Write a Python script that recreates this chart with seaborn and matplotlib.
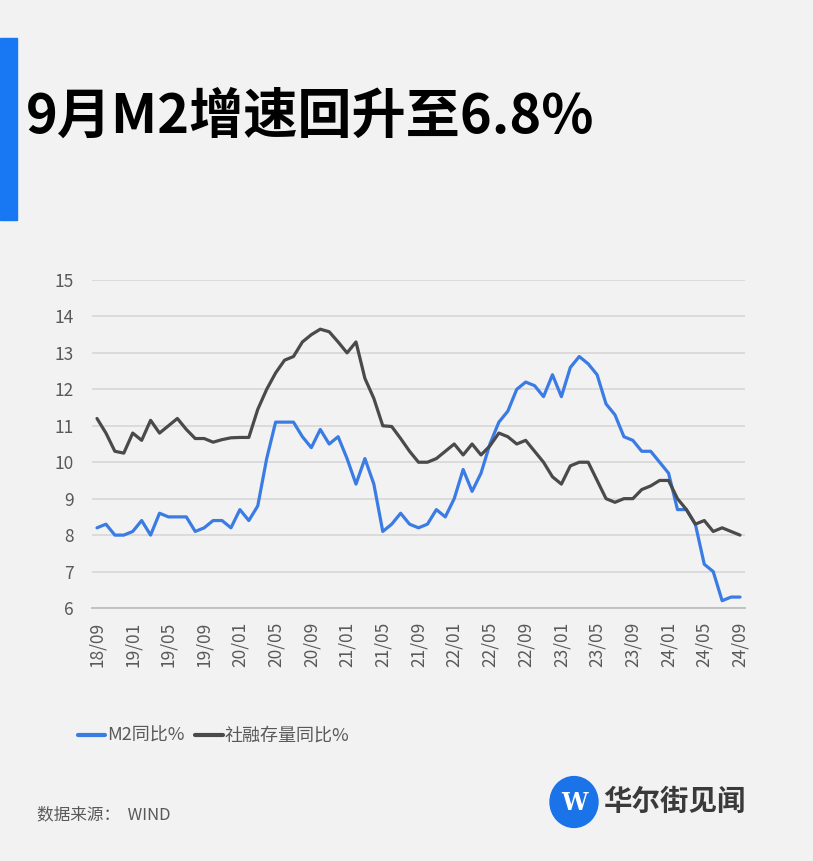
import numpy as np
import pandas as pd
import matplotlib
matplotlib.use("Agg")
import matplotlib.pyplot as plt
import seaborn as sns
from matplotlib.patches import Rectangle, Circle
from matplotlib.lines import Line2D

# ---- data ----
tick_labels = ["18/09", "19/01", "19/05", "19/09", "20/01", "20/05", "20/09",
               "21/01", "21/05", "21/09", "22/01", "22/05", "22/09", "23/01",
               "23/05", "23/09", "24/01", "24/05", "24/09"]

m2 = [8.2, 8.3, 8.0, 8.0, 8.1,
      8.4, 8.0, 8.6, 8.5, 8.5, 8.5, 8.1, 8.2, 8.4, 8.4, 8.2, 8.7,
      8.4, 8.8, 10.1, 11.1, 11.1, 11.1, 10.7, 10.4, 10.9, 10.5, 10.7, 10.1,
      9.4, 10.1, 9.4, 8.1, 8.3, 8.6, 8.3, 8.2, 8.3, 8.7, 8.5, 9.0,
      9.8, 9.2, 9.7, 10.5, 11.1, 11.4, 12.0, 12.2, 12.1, 11.8, 12.4, 11.8,
      12.6, 12.9, 12.7, 12.4, 11.6, 11.3, 10.7, 10.6, 10.3, 10.3, 10.0, 9.7,
      8.7, 8.7, 8.3, 7.2, 7.0, 6.2, 6.3, 6.3]

tsf = [11.2, 10.8, 10.3, 10.25, 10.8, 10.6, 11.15, 10.8, 11.0, 11.2, 10.9, 10.65,
       10.65, 10.55, 10.62, 10.67, 10.68, 10.68,
       11.45, 12.0, 12.45, 12.8, 12.9, 13.3, 13.5, 13.65, 13.58, 13.3, 13.0, 13.3,
       12.3, 11.75, 11.0, 10.98, 10.65, 10.3, 10.0, 10.0, 10.1, 10.3,
       10.5, 10.2, 10.5, 10.2, 10.45, 10.8, 10.7, 10.5, 10.6, 10.3, 10.0, 9.6,
       9.4, 9.9, 10.0, 10.0, 9.5, 9.0, 8.9, 9.0, 9.0, 9.25, 9.35, 9.5,
       9.5, 9.0, 8.7, 8.3, 8.4, 8.1, 8.2, 8.1, 8.0]

series_names = ["M2同比%", "社融存量同比%"]
colors = ["#3a7ce4", "#4a4a4a"]

idx = np.arange(len(m2))
df = pd.concat([
    pd.DataFrame({"i": idx, "v": m2, "s": series_names[0]}),
    pd.DataFrame({"i": idx, "v": tsf, "s": series_names[1]}),
])

sns.set_theme(style="white")
plt.rcParams['font.family'] = ['Noto Sans CJK SC', 'DejaVu Sans']
BG = "#f2f2f2"
GREY = "#595959"

fig = plt.figure(figsize=(8.13, 8.61), dpi=100, facecolor=BG)
W, H = 813, 861

def fx(x): return x / W
def fy(y): return 1 - y / H

ax = fig.add_axes([fx(92), fy(608), (745 - 92) / W, (608 - 280) / H])
ax.set_facecolor(BG)

sns.lineplot(data=df, x="i", y="v", hue="s", palette=dict(zip(series_names, colors)),
             linewidth=2.3, ax=ax, legend=False)

ax.set_xlim(-0.56, 72.56)
ax.set_ylim(6, 15)
ax.set_yticks(range(6, 16))
ax.set_xticks(np.arange(0, 73, 4))
ax.set_xticklabels(tick_labels, rotation=90)
ax.tick_params(axis='x', colors=GREY, labelsize=12.5, length=0, pad=10)
ax.tick_params(axis='y', colors=GREY, labelsize=12.5, length=0, pad=13)
ax.set_xlabel("")
ax.set_ylabel("")
ax.grid(axis='y', color="#d9d9d9", linewidth=1.3)
ax.set_axisbelow(True)
for s in ["top", "right", "left"]:
    ax.spines[s].set_visible(False)
ax.spines["bottom"].set_color("#bfbfbf")
ax.spines["bottom"].set_linewidth(1.3)

# legend
handles = [Line2D([0], [0], color=c, lw=3) for c in colors]
fig.legend(handles, series_names, loc="center left", bbox_to_anchor=(fx(62), fy(736)),
           frameon=False, ncol=2, handlelength=1.5, handletextpad=0.1, columnspacing=0.6,
           labelcolor=GREY, prop={'size': 13})

# title bar and title
fig.patches.append(Rectangle((0, fy(220)), fx(17), (220 - 38) / H, transform=fig.transFigure,
                             color="#1877f2", zorder=0))
fig.text(fx(26), fy(117), "9月M2增速回升至6.8%", fontsize=39, fontweight="bold",
         color="#000000", va="center", ha="left")

# source
fig.text(fx(37), fy(815), "数据来源：  WIND", fontsize=12, color=GREY, va="center", ha="left")

# logo
fig.patches.append(Circle((fx(574), fy(802)), 24 / W, transform=fig.transFigure,
                          color="#1a73e8", zorder=2))
fig.text(fx(574), fy(803), "W", fontsize=17, fontweight="bold", color="white",
         ha="center", va="center", family=["DejaVu Serif"], zorder=3)
fig.text(fx(603), fy(802), "华尔街见闻", fontsize=20.5, fontweight="bold", color="#3a3a3a",
         va="center", ha="left")

fig.savefig("out.png", dpi=100, facecolor=BG)
